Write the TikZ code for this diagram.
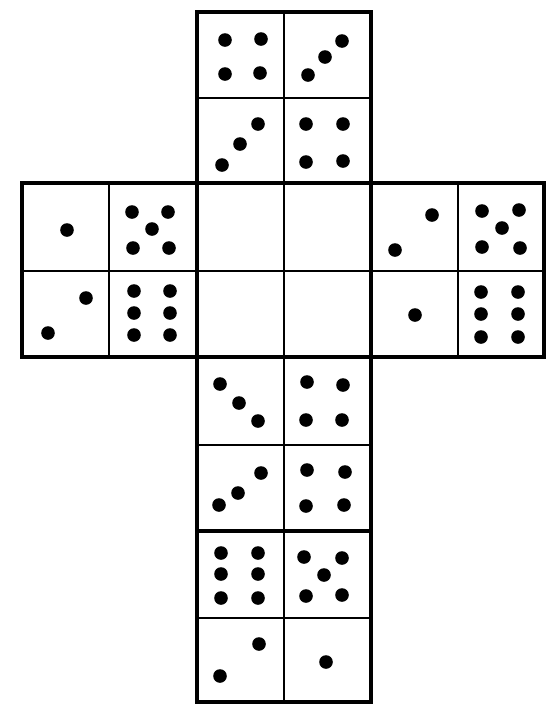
\documentclass[tikz,border=0pt]{standalone}
\begin{document}
\begin{tikzpicture}[x=1pt,y=-1pt,
  thickline/.style={line width=3.2pt,line cap=rect},
  thinline/.style={line width=1.9pt},
  pip/.style={fill=black}]
\useasboundingbox (0,0) rectangle (550,710);
\fill[white] (0,0) rectangle (550,710);
% thin internal dividers
\draw[thinline] (284,12) -- (284,702);
\draw[thinline] (197,98) -- (371,98);
\draw[thinline] (109,183) -- (109,357);
\draw[thinline] (458,183) -- (458,357);
\draw[thinline] (22,271) -- (544,271);
\draw[thinline] (197,445) -- (371,445);
\draw[thinline] (197,618) -- (371,618);
% thick face boundaries
\draw[thickline] (197,12) rectangle (371,702);
\draw[thickline] (22,183) rectangle (544,357);
\draw[thickline] (197,183) -- (197,357);
\draw[thickline] (371,183) -- (371,357);
\draw[thickline] (197,531) -- (371,531);
% pips
\foreach \x/\y in {
  225/40, 261/39, 225/74, 260/73,
  342/41, 325/57, 308/75,
  258/124, 240/144, 222/165,
  306/124, 343/124, 306/162, 343/161,
  67/230,
  132/212, 168/212, 152/229, 133/248, 169/248,
  86/298, 48/333,
  134/291, 134/313, 134/335, 170/291, 170/313, 170/335,
  432/215, 395/250,
  482/211, 519/210, 502/228, 482/247, 520/248,
  415/315,
  481/292, 481/314, 481/337, 518/292, 518/314, 518/337,
  220/384, 239/403, 258/421,
  307/382, 343/385, 306/420, 342/420,
  261/473, 238/493, 219/505,
  307/470, 345/472, 306/506, 344/505,
  221/553, 221/574, 221/598, 258/553, 258/574, 258/598,
  304/557, 342/558, 324/575, 306/596, 342/595,
  259/644, 220/676,
  326/662}
  \fill[pip] (\x,\y) circle (6.8);
\end{tikzpicture}
\end{document}
